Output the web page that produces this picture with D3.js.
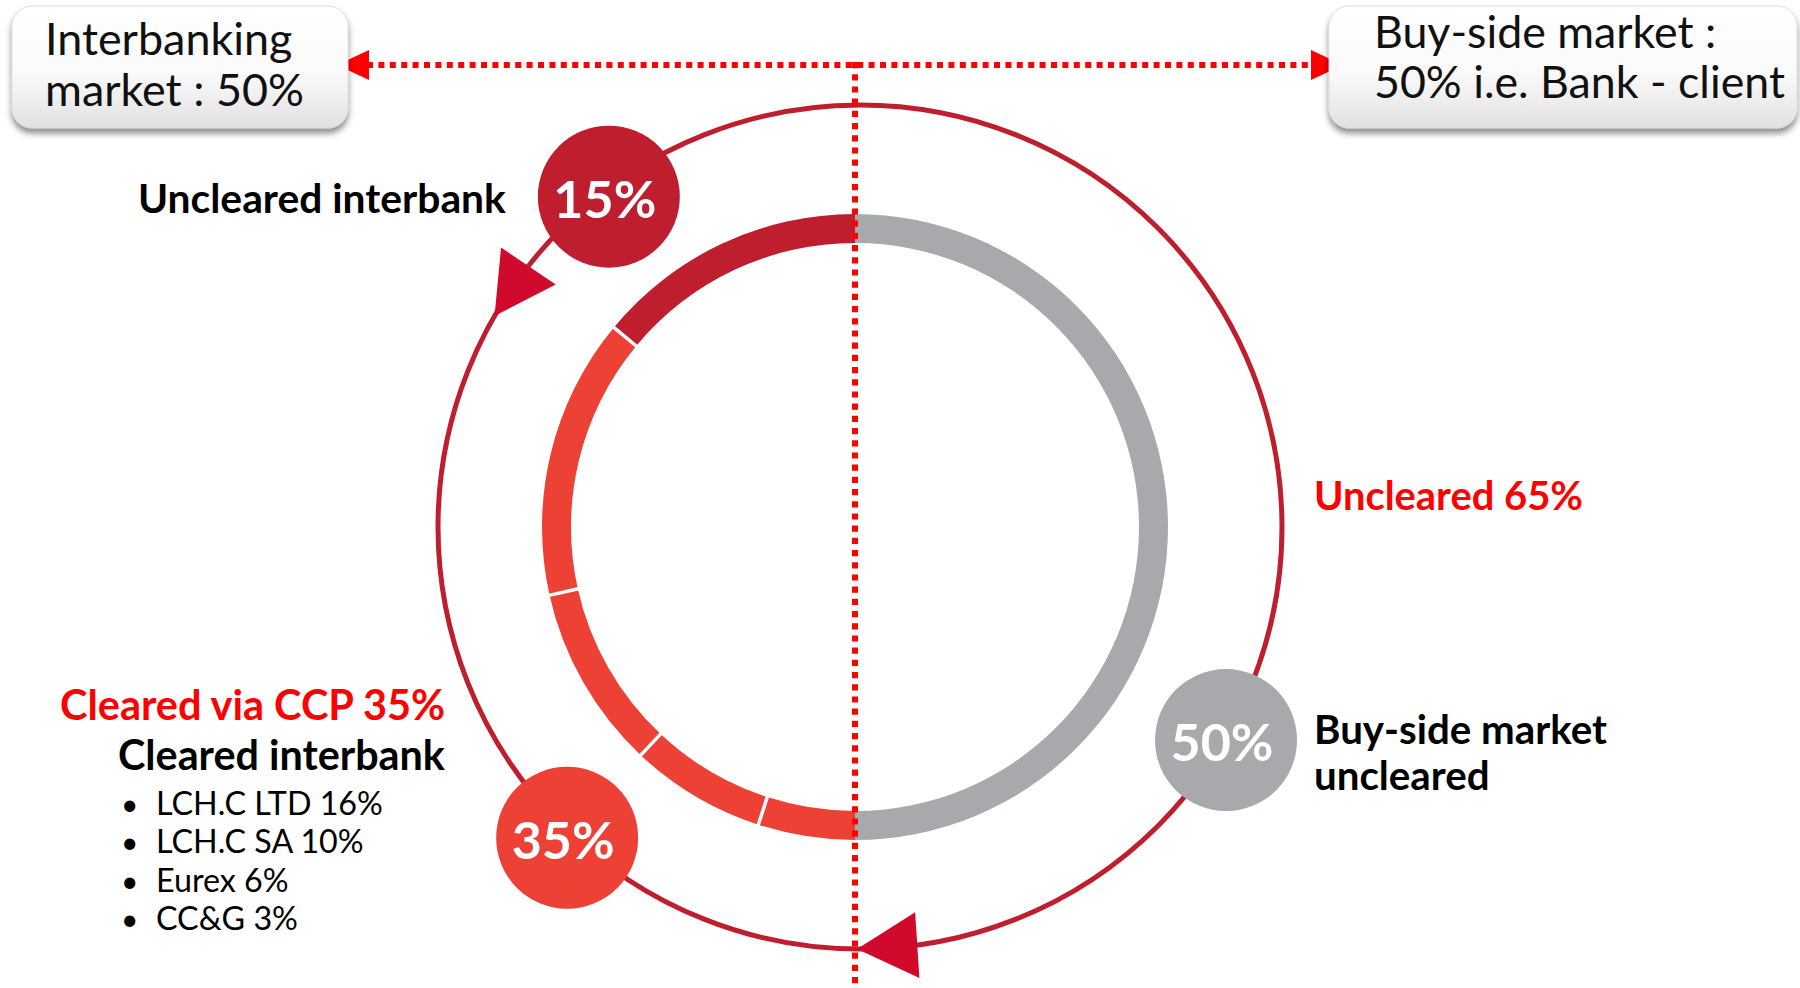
<!DOCTYPE html>
<html>
<head>
<meta charset="utf-8">
<script src="https://cdn.jsdelivr.net/npm/d3@7"></script>
<style>
  html, body { margin: 0; padding: 0; background: #ffffff; }
  svg { display: block; }
</style>
</head>
<body>
<svg id="chart" width="1800" height="988"></svg>
<script>
// ---------------- data ----------------
const marketLabels = ["Interbanking", "market : 50%"];
const buySideLabels = ["Buy-side market :", "50% i.e. Bank - client"];
const ringCategories = ["Buy-side market uncleared", "CC&G", "Eurex", "LCH.C SA", "LCH.C LTD", "Uncleared interbank"];
const ringValues = [50, 5, 7, 9.5, 14.5, 14];          // arc sizes as drawn in the picture
const ccpNames = ["LCH.C LTD", "LCH.C SA", "Eurex", "CC&G"];
const ccpShares = [16, 10, 6, 3];
const badgeLabels = ["15%", "35%", "50%"];
const badgeValues = [15, 35, 50];
const unclearedTotal = 65;
const clearedTotal = 35;

// ---------------- styles / layout ----------------
const FONT = "Lato, 'Open Sans', sans-serif";
const DARK = "#BE1E2D", LIGHT = "#EE4136", GREY = "#A7A9AC", ARROW = "#CF0A2C", DOT = "#FF0000";
const color = d3.scaleOrdinal()
  .domain(ringCategories)
  .range([GREY, LIGHT, LIGHT, LIGHT, LIGHT, DARK]);

const svg = d3.select("#chart");
const defs = svg.append("defs");

const grad = defs.append("linearGradient").attr("id", "boxGrad")
  .attr("x1", 0).attr("y1", 0).attr("x2", 0).attr("y2", 1);
grad.append("stop").attr("offset", "0%").attr("stop-color", "#ffffff");
grad.append("stop").attr("offset", "55%").attr("stop-color", "#fafafa");
grad.append("stop").attr("offset", "100%").attr("stop-color", "#e1e1e1");

const shadow = defs.append("filter").attr("id", "shadow")
  .attr("x", "-10%").attr("y", "-10%").attr("width", "120%").attr("height", "140%");
shadow.append("feDropShadow").attr("dx", 0).attr("dy", 5).attr("stdDeviation", 3)
  .attr("flood-color", "#000").attr("flood-opacity", 0.45);

function fit(node, target) {
  const fs = parseFloat(node.getAttribute("font-size"));
  const len = node.getComputedTextLength();
  if (len > 0) node.setAttribute("font-size", (fs * target / len).toFixed(2));
  return parseFloat(node.getAttribute("font-size"));
}

// ---------------- ring (donut) ----------------
const cx = 855, cy = 527;
const rOuter = 313, rInner = 284;
const pie = d3.pie().sort(null).value(d => d.value).startAngle(0).endAngle(2 * Math.PI);
const ringData = pie(ringCategories.map((c, i) => ({ cat: c, value: ringValues[i] })));
const arc = d3.arc().innerRadius(rInner).outerRadius(rOuter);

const ringG = svg.append("g").attr("transform", `translate(${cx},${cy})`);
ringG.selectAll("path.seg").data(ringData).join("path")
  .attr("class", "seg")
  .attr("d", arc)
  .attr("fill", d => color(d.data.cat));

// white separators between red segments
const sepAngles = ringData.slice(2).map(d => d.startAngle);
ringG.selectAll("line.sep").data(sepAngles).join("line")
  .attr("class", "sep")
  .attr("x1", a => Math.sin(a) * (rInner - 4)).attr("y1", a => -Math.cos(a) * (rInner - 4))
  .attr("x2", a => Math.sin(a) * (rOuter + 4)).attr("y2", a => -Math.cos(a) * (rOuter + 4))
  .attr("stroke", "#ffffff").attr("stroke-width", 3.5);

// ---------------- outer circle with arrows ----------------
const ox = 860, oy = 527, oR = 422;
svg.append("circle").attr("cx", ox).attr("cy", oy).attr("r", oR)
  .attr("fill", "none").attr("stroke", DARK).attr("stroke-width", 5);

const deg = Math.PI / 180;
const pt = (a, r = oR) => [ox + Math.sin(a) * r, oy - Math.cos(a) * r];
const arrowSpecs = [ { tip: 300 * deg, back: 8.2 * deg }, { tip: 180.4 * deg, back: -8.2 * deg } ];
svg.selectAll("path.arrow").data(arrowSpecs).join("path")
  .attr("class", "arrow")
  .attr("d", s => {
    const t = pt(s.tip), b = pt(s.tip + s.back);
    const dx = t[0] - b[0], dy = t[1] - b[1], L = Math.hypot(dx, dy);
    const nx = -dy / L * 33, ny = dx / L * 33;
    return `M${t[0]},${t[1]}L${b[0] + nx},${b[1] + ny}L${b[0] - nx},${b[1] - ny}Z`;
  })
  .attr("fill", ARROW);

// badges on the outer circle
const badgeAngles = [322.75 * deg, 223.3 * deg, 120.2 * deg];
const badgeRadii = [415, 427, 423.5];
const badgeColors = [DARK, LIGHT, GREY];
const badges = svg.selectAll("g.badge").data(badgeLabels).join("g")
  .attr("class", "badge")
  .attr("transform", (d, i) => { const p = pt(badgeAngles[i], badgeRadii[i]); return `translate(${p[0]},${p[1]})`; });
badges.append("circle").attr("r", 71).attr("fill", (d, i) => badgeColors[i]);
const badgeTexts = badges.append("text")
  .attr("x", -4).attr("y", 21)
  .attr("text-anchor", "middle")
  .attr("font-family", FONT).attr("font-weight", 700).attr("font-size", 54)
  .attr("fill", "#ffffff")
  .text((d, i) => badgeValues[i] + "%");
badgeTexts.each(function () { fit(this, 103); });

// ---------------- dotted guide lines ----------------
const lineY = 65;
svg.append("line").attr("x1", 367).attr("x2", 1313).attr("y1", lineY).attr("y2", lineY)
  .attr("stroke", DOT).attr("stroke-width", 6).attr("stroke-dasharray", "6,5.4");
svg.append("line").attr("x1", cx).attr("x2", cx).attr("y1", lineY - 3).attr("y2", 988)
  .attr("stroke", DOT).attr("stroke-width", 6).attr("stroke-dasharray", "6.2,6");
svg.append("path").attr("d", `M337,${lineY}L369,${lineY - 15}L369,${lineY + 15}Z`).attr("fill", DOT);
svg.append("path").attr("d", `M1343,${lineY}L1311,${lineY - 15}L1311,${lineY + 15}Z`).attr("fill", DOT);

// ---------------- boxes ----------------
function box(x, y, w, h, lines, tx, ty, lh, target) {
  svg.append("rect").attr("x", x).attr("y", y).attr("width", w).attr("height", h)
    .attr("rx", 20).attr("ry", 20)
    .attr("fill", "url(#boxGrad)").attr("stroke", "#d8d8d8").attr("stroke-width", 0.8)
    .attr("filter", "url(#shadow)");
  const t = svg.selectAll(null).data(lines).join("text")
    .attr("x", tx).attr("y", (d, i) => ty + i * lh)
    .attr("font-family", FONT).attr("font-weight", 400).attr("font-size", 42)
    .attr("fill", "#111").text(d => d);
  const fs = fit(t.nodes()[target.idx], target.w);
  t.attr("font-size", fs);
}
box(12, 6, 336, 122, marketLabels, 45, 55, 51, { idx: 1, w: 259 });
box(1329, 6, 468, 122, buySideLabels, 1374, 48, 50, { idx: 1, w: 411 });

// ---------------- labels ----------------
function label(txt, x, y, size, weight, fill, w) {
  const t = svg.append("text").attr("x", x).attr("y", y)
    .attr("font-family", FONT).attr("font-weight", weight).attr("font-size", size)
    .attr("fill", fill).text(txt);
  if (w) fit(t.node(), w);
  return t;
}
label("Uncleared interbank", 138, 213, 36, 700, "#000", 368);
label(`Uncleared ${unclearedTotal}%`, 1314, 510, 38, 700, DOT, 269);
const bs1 = label("Buy-side market", 1314, 744, 36, 700, "#000", 293);
label("uncleared", 1314, 790, +bs1.attr("font-size"), 700, "#000");
label(`Cleared via CCP ${clearedTotal}%`, 60, 720, 36, 700, DOT, 385);
label("Cleared interbank", 118, 770, 36, 700, "#000", 327);

const list = svg.append("g");
const items = list.selectAll("g").data(ccpNames).join("g")
  .attr("transform", (d, i) => `translate(0,${815 + i * 38.3})`);
items.append("text").attr("x", 121).attr("y", 0)
  .attr("font-family", FONT).attr("font-size", 30).attr("fill", "#000").text("•");
const itemText = items.append("text").attr("x", 156).attr("y", 0)
  .attr("font-family", FONT).attr("font-weight", 400).attr("font-size", 30).attr("fill", "#000")
  .text((d, i) => `${d} ${ccpShares[i]}%`);
const lfs = fit(itemText.nodes()[0], 227);
itemText.attr("font-size", lfs);
</script>
</body>
</html>
